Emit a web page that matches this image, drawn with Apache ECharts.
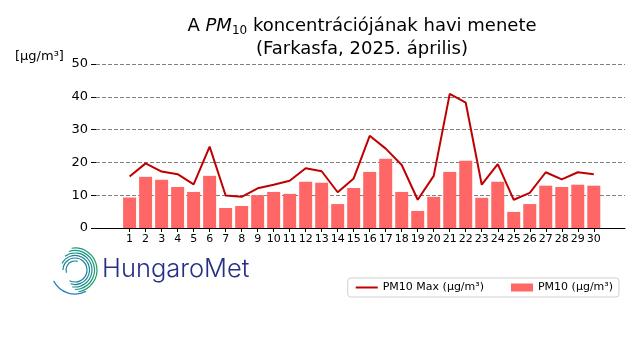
<!DOCTYPE html>
<html><head><meta charset="utf-8">
<script src="https://cdn.jsdelivr.net/npm/echarts@6/dist/echarts.min.js"></script>
<style>html,body{margin:0;padding:0;background:#fff}#c{width:640px;height:360px}</style>
</head><body><div id="c"></div>
<script>
const days = [1,2,3,4,5,6,7,8,9,10,11,12,13,14,15,16,17,18,19,20,21,22,23,24,25,26,27,28,29,30];
const pm10 = [9.3,15.6,14.7,12.5,11.0,15.9,6.1,6.7,10.0,11.0,10.4,14.1,13.8,7.3,12.2,17.1,21.1,11.0,5.2,9.5,17.1,20.5,9.2,14.1,4.9,7.3,12.9,12.5,13.2,12.9];
const pm10Max = [15.7,19.7,17.2,16.4,13.3,24.8,9.9,9.5,12.1,13.2,14.4,18.2,17.3,10.9,15.1,28.1,24.2,19.2,8.6,15.9,40.9,38.2,13.2,19.5,8.6,10.7,17.0,14.8,17.0,16.4];
const yTicks = [0,10,20,30,40,50];

const chart = echarts.init(document.getElementById('c'), null, {renderer:'canvas'});
const F = 'DejaVu Sans';
chart.setOption({
  animation:false,
  textStyle:{fontFamily:F},
  grid:{left:96,right:15,top:64,bottom:132,containLabel:false},
  xAxis:{type:'value',min:-1.1,max:31.95,
    axisLine:{show:true,onZero:false,lineStyle:{color:'#000',width:1}},
    axisTick:{show:true,customValues:days,length:4,lineStyle:{color:'#000'}},
    axisLabel:{customValues:days,color:'#000',fontSize:11,fontFamily:F,margin:6},
    splitLine:{show:false}},
  yAxis:{type:'value',min:0,max:50,interval:10,
    axisLine:{show:false,onZero:false},
    axisTick:{show:true,length:5,lineStyle:{color:'#000'}},
    axisLabel:{color:'#000',fontSize:13,fontFamily:F,margin:8},
    splitLine:{show:true,lineStyle:{color:'#808080',type:[4,2],width:1}}},
  legend:{right:21,top:278,orient:'horizontal',
    backgroundColor:'#fff',borderColor:'#d0d0d0',borderWidth:1,borderRadius:3,
    padding:[4,6,4,8],itemGap:27,itemWidth:22,itemHeight:8,
    textStyle:{fontSize:11,fontFamily:F,color:'#000'},
    data:[{name:'PM10 Max (µg/m³)',icon:'path://M0,0H22V2H0Z'},{name:'PM10 (µg/m³)',icon:'rect'}]},
  series:[
    {name:'PM10 (µg/m³)',type:'bar',barWidth:13,itemStyle:{color:'#ff6666'},
     data:days.map((d,i)=>[d,pm10[i]]),z:2},
    {name:'PM10 Max (µg/m³)',type:'line',symbol:'none',showSymbol:false,
     lineStyle:{color:'#c00000',width:2},itemStyle:{color:'#c00000'},
     data:days.map((d,i)=>[d,pm10Max[i]]),z:3}
  ],
  graphic:[
    {type:'text',x:362,y:15,style:{
      text:'A {i|PM}{s|10} koncentrációjának havi menete\n(Farkasfa, 2025. április)',
      align:'center',verticalAlign:'top',fontFamily:F,fontSize:18,lineHeight:23,fill:'#000',
      rich:{i:{fontStyle:'italic',fontFamily:F,fontSize:18,fill:'#000'},
            s:{fontFamily:F,fontSize:12,fill:'#000',padding:[8,0,0,0]}}}},
    {type:'text',x:15,y:50,style:{text:'[µg/m³]',fontFamily:F,fontSize:13,fill:'#000'}},
    {type:'text',x:102,y:256,style:{text:'HungaroMet',fontFamily:'Inter',fontWeight:300,fontSize:25.5,fill:'#262f84'}},
    {type:'group',x:75,y:270,children:[
      {type:'arc',shape:{cx:0,cy:0,r:22,startAngle:-Math.PI*0.55,endAngle:Math.PI*0.45},style:{stroke:'#1a9a6a',lineWidth:1.2,fill:null}},
      {type:'arc',shape:{cx:0,cy:0,r:19.5,startAngle:-Math.PI*0.6,endAngle:Math.PI*0.5},style:{stroke:'#1a9a7a',lineWidth:1.2,fill:null}},
      {type:'arc',shape:{cx:0,cy:0,r:17,startAngle:-Math.PI*0.7,endAngle:Math.PI*0.55},style:{stroke:'#1a8f8a',lineWidth:1.2,fill:null}},
      {type:'arc',shape:{cx:0,cy:0,r:14.5,startAngle:-Math.PI*0.85,endAngle:Math.PI*0.6},style:{stroke:'#1a8598',lineWidth:1.2,fill:null}},
      {type:'arc',shape:{cx:0,cy:0,r:12,startAngle:-Math.PI*1.0,endAngle:Math.PI*0.65},style:{stroke:'#1a7fa0',lineWidth:1.2,fill:null}},
      {type:'arc',shape:{cx:0,cy:0,r:9,startAngle:Math.PI*0.9,endAngle:Math.PI*1.6},style:{stroke:'#1a88a0',lineWidth:1.2,fill:null}},
      {type:'arc',shape:{cx:0,cy:0,r:24,startAngle:Math.PI*0.35,endAngle:Math.PI*0.85},style:{stroke:'#2a7fc0',lineWidth:1.2,fill:null}}
    ]}
  ]
});
</script></body></html>
